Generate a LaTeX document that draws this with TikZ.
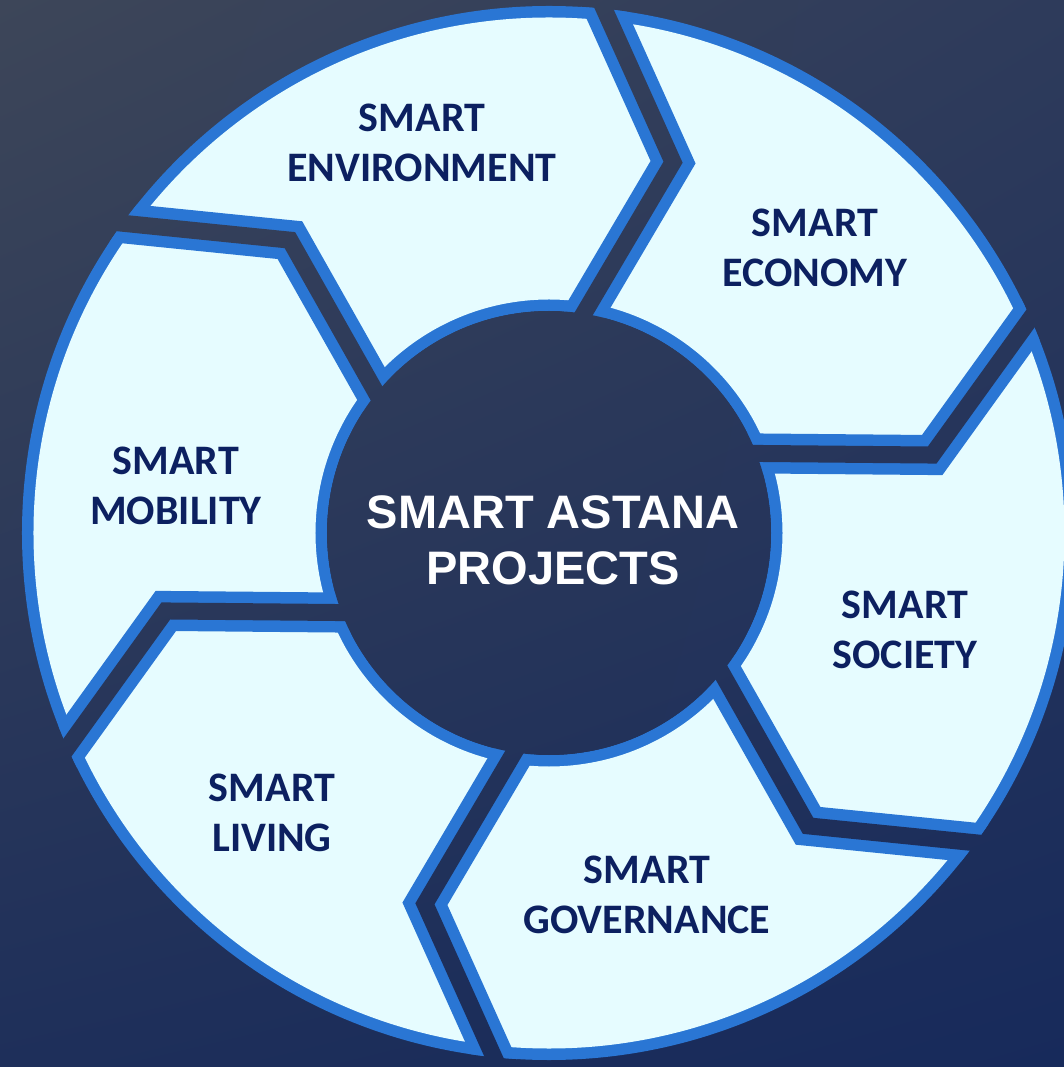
\documentclass[tikz,border=0pt]{standalone}
\usepackage{fontspec}
\usetikzlibrary{calc,shadings}
\newfontfamily\labfont{Carlito}
\newfontfamily\ctrfont{Liberation Sans}
\definecolor{ringblue}{HTML}{2A76D4}
\definecolor{lightfill}{HTML}{E6FCFF}
\definecolor{labcol}{HTML}{0C2060}
\definecolor{bgA}{HTML}{3D4659}
\definecolor{bgB}{HTML}{2E3B5B}
\definecolor{bgC}{HTML}{1E2F5A}
\definecolor{bgD}{HTML}{172A5B}
\newcommand\bgshade{\shade[upper left=bgA, upper right=bgB, lower left=bgC, lower right=bgD] (-549,-534) rectangle (515,533);}
\tikzset{
  lab/.style={font=\labfont\bfseries\fontsize{42}{50}\selectfont, text=labcol, align=center, inner sep=0pt},
  ctr/.style={font=\ctrfont\bfseries\fontsize{47}{56}\selectfont, text=white, align=center, inner sep=0pt}
}
\begin{document}
\begin{tikzpicture}[x=1pt,y=1pt]
\useasboundingbox (-549,-534) rectangle (515,533);
\bgshade
% boundary chevron centre lines
\foreach \k in {0,...,5}{
  \pgfmathsetmacro\ao{84-60*\k}
  \pgfmathsetmacro\am{\ao-12.5}
  \pgfmathsetmacro\ai{\ao-3}
  \coordinate (O\k) at (\ao:527);
  \coordinate (M\k) at (\am:391);
  \coordinate (I\k) at (\ai:222);
  \coordinate (Oe\k) at ($(M\k)!1.25!(O\k)$);
  \coordinate (Ie\k) at ($(M\k)!1.4!(I\k)$);
  \foreach \w/\nm in {8.5pt/g, 20pt/b}{
    \coordinate (\nm P\k) at ($(Oe\k)!\w!90:(M\k)$);
    \coordinate (\nm Q\k) at ($(M\k)!\w!-90:(Oe\k)$);
    \coordinate (\nm S\k) at ($(M\k)!\w!90:(Ie\k)$);
    \coordinate (\nm T\k) at ($(Ie\k)!\w!-90:(M\k)$);
    \coordinate (\nm U\k) at ($(Oe\k)!\w!-90:(M\k)$);
    \coordinate (\nm V\k) at ($(M\k)!\w!90:(Oe\k)$);
    \coordinate (\nm W\k) at ($(M\k)!\w!-90:(Ie\k)$);
    \coordinate (\nm X\k) at ($(Ie\k)!\w!90:(M\k)$);
    \coordinate (\nm L\k) at (intersection cs: first line={(\nm P\k)--(\nm Q\k)}, second line={(\nm S\k)--(\nm T\k)});
    \coordinate (\nm R\k) at (intersection cs: first line={(\nm U\k)--(\nm V\k)}, second line={(\nm W\k)--(\nm X\k)});
  }
}
% ring
\fill[ringblue, even odd rule] (0,0) circle (527) (0,0) circle (222);
\fill[lightfill, even odd rule] (0,0) circle (515.5) (0,0) circle (233.5);
% blue bands along boundaries
\begin{scope}
  \clip (0,0) circle (527);
  \foreach \k in {0,...,5}{
    \fill[ringblue] (bP\k) -- (bL\k) -- (bT\k) -- (bX\k) -- (bR\k) -- (bU\k) -- cycle;
  }
\end{scope}
% gaps showing background
\foreach \k in {0,...,5}{
  \begin{scope}
    \clip (gP\k) -- (gL\k) -- (gT\k) -- (gX\k) -- (gR\k) -- (gU\k) -- cycle;
    \bgshade
  \end{scope}
}
% inner disc
\begin{scope}
  \clip (0,0) circle (222);
  \bgshade
\end{scope}
% labels
\node[lab] (env) at (-127,390) {SMART\\ENVIRONMENT};
\node[lab] (eco) at (266,285) {SMART\\ECONOMY};
\node[lab] (soc) at (356,-97) {SMART\\SOCIETY};
\node[lab] (gov) at (98,-362) {SMART\\GOVERNANCE};
\node[lab] (liv) at (-277,-280) {SMART\\LIVING};
\node[lab] (mob) at (-373,47) {SMART\\MOBILITY};
\node[ctr] (hub) at (4,-7) {SMART ASTANA\\PROJECTS};
\end{tikzpicture}
\end{document}
